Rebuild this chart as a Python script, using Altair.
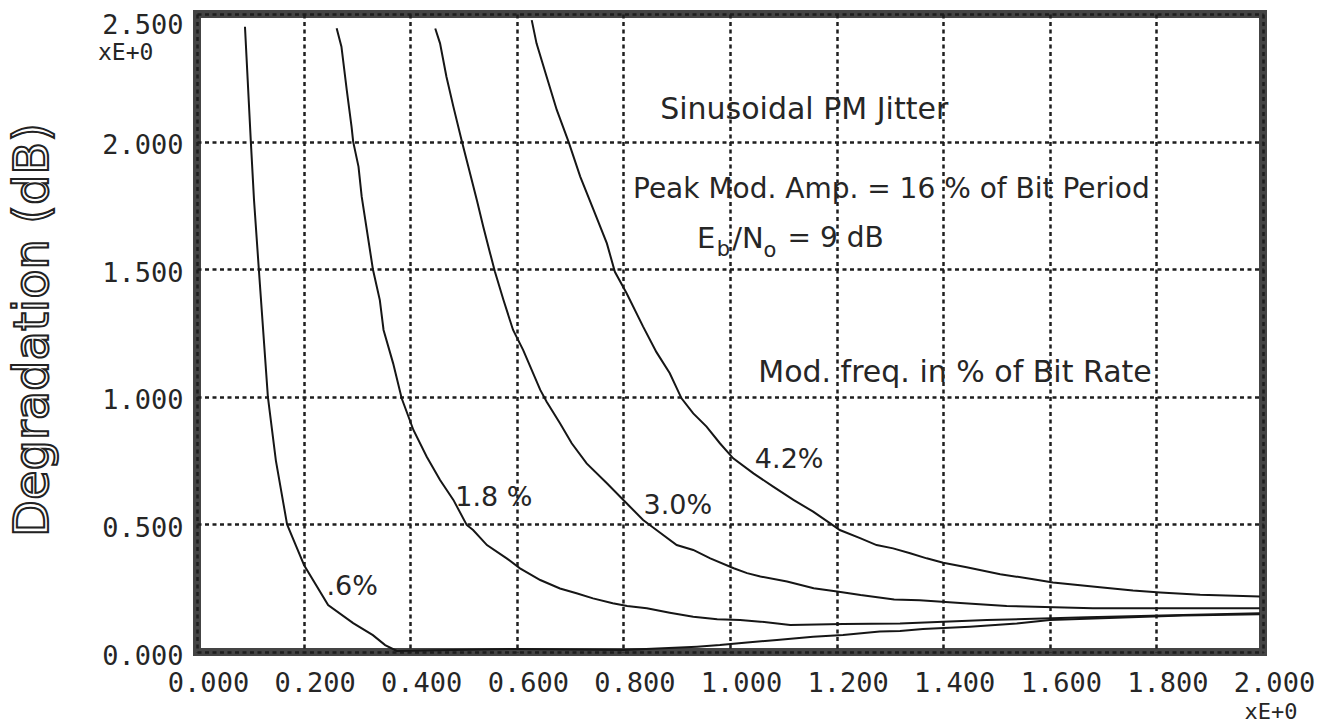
import altair as alt
import pandas as pd

# ---- axis ticks ----
x_ticks = [0.0, 0.2, 0.4, 0.6, 0.8, 1.0, 1.2, 1.4, 1.6, 1.8, 2.0]
y_ticks = [0.0, 0.5, 1.0, 1.5, 2.0, 2.5]

# ---- curves ----
c06_x = [0.090, 0.101, 0.107, 0.116, 0.133, 0.148, 0.169, 0.185, 0.201, 0.246, 0.293, 0.330,
         0.353, 0.375, 0.600, 0.800, 0.938, 0.981, 1.032, 1.088, 1.156, 1.212, 1.281, 1.319,
         1.362, 1.450, 1.538, 1.600, 1.850, 1.994]
c06_y = [2.450, 2.000, 1.770, 1.500, 1.000, 0.750, 0.500, 0.420, 0.340, 0.184, 0.113, 0.066,
         0.027, 0.004, 0.012, 0.008, 0.021, 0.027, 0.037, 0.047, 0.060, 0.067, 0.080, 0.082,
         0.090, 0.099, 0.112, 0.125, 0.143, 0.148]

c18_x = [0.262, 0.271, 0.281, 0.290, 0.293, 0.303, 0.309, 0.330, 0.343, 0.350, 0.368, 0.384,
         0.406, 0.431, 0.456, 0.481, 0.506, 0.518, 0.544, 0.581, 0.606, 0.644, 0.681, 0.712,
         0.743, 0.780, 0.807, 0.844, 0.887, 0.931, 0.976, 1.019, 1.057, 1.113, 1.212, 1.319,
         1.482, 1.670, 1.850, 1.994]
c18_y = [2.444, 2.372, 2.202, 2.058, 2.000, 1.902, 1.784, 1.500, 1.379, 1.262, 1.131, 0.994,
         0.870, 0.765, 0.674, 0.596, 0.498, 0.478, 0.419, 0.367, 0.328, 0.282, 0.249, 0.230,
         0.210, 0.191, 0.180, 0.171, 0.154, 0.138, 0.128, 0.125, 0.119, 0.106, 0.110, 0.112,
         0.125, 0.136, 0.145, 0.152]

c30_x = [0.447, 0.456, 0.468, 0.481, 0.497, 0.509, 0.525, 0.537, 0.550, 0.559, 0.575, 0.593,
         0.612, 0.644, 0.656, 0.681, 0.703, 0.731, 0.769, 0.806, 0.837, 0.862, 0.900, 0.931,
         0.963, 1.007, 1.032, 1.057, 1.107, 1.157, 1.201, 1.245, 1.308, 1.356, 1.432, 1.519,
         1.681, 1.994]
c30_y = [2.443, 2.385, 2.254, 2.137, 2.000, 1.902, 1.771, 1.667, 1.562, 1.490, 1.379, 1.262,
         1.183, 1.027, 0.981, 0.896, 0.818, 0.739, 0.661, 0.583, 0.517, 0.478, 0.419, 0.400,
         0.367, 0.328, 0.309, 0.296, 0.276, 0.250, 0.237, 0.223, 0.206, 0.203, 0.192, 0.180,
         0.171, 0.171]

c42_x = [0.628, 0.637, 0.656, 0.675, 0.697, 0.719, 0.744, 0.769, 0.784, 0.806, 0.837, 0.862,
         0.887, 0.909, 0.931, 0.956, 0.981, 1.006, 1.044, 1.081, 1.119, 1.156, 1.188, 1.206,
         1.244, 1.275, 1.306, 1.338, 1.369, 1.400, 1.444, 1.507, 1.569, 1.606, 1.694, 1.756,
         1.807, 1.882, 1.994]
c42_y = [2.476, 2.385, 2.254, 2.124, 2.000, 1.863, 1.732, 1.601, 1.490, 1.406, 1.275, 1.175,
         1.092, 0.994, 0.935, 0.883, 0.818, 0.759, 0.700, 0.648, 0.596, 0.550, 0.504, 0.478,
         0.446, 0.419, 0.406, 0.387, 0.367, 0.350, 0.332, 0.305, 0.285, 0.272, 0.254, 0.241,
         0.233, 0.224, 0.217]

# ---- curve labels ----
lab_text = [".6%", "1.8 %", "3.0%", "4.2%"]
lab_x = [0.291, 0.557, 0.902, 1.111]
lab_y = [0.255, 0.603, 0.572, 0.752]

rows = []
for name, xs, ys in [(".6%", c06_x, c06_y), ("1.8%", c18_x, c18_y),
                     ("3.0%", c30_x, c30_y), ("4.2%", c42_x, c42_y)]:
    for i, (a, b) in enumerate(zip(xs, ys)):
        rows.append({"curve": name, "order": i, "x": a, "y": b})
df = pd.DataFrame(rows)

INK = "#161616"
TXT = "#262626"

xscale = alt.Scale(domain=[0, 2], nice=False, zero=False)
yscale = alt.Scale(domain=[0, 2.5], nice=False, zero=False)

lines = alt.Chart(df).mark_line(color=INK, strokeWidth=2, clip=True).encode(
    x=alt.X("x:Q", scale=xscale,
            axis=alt.Axis(values=x_ticks, format=".3f", title=None,
                          labelPadding=18, labelOffset=11,
                          labelFlush=False, labelOverlap=False)),
    y=alt.Y("y:Q", scale=yscale,
            axis=alt.Axis(values=y_ticks, format=".3f", title=None,
                          labelPadding=14, labelFlush=False, labelOverlap=False,
                          labelOffset=alt.expr("datum.value == 2.5 ? 11 : 4"))),
    detail="curve:N",
    order="order:Q",
)

labels = alt.Chart(pd.DataFrame({"t": lab_text, "x": lab_x, "y": lab_y})).mark_text(
    font="DejaVu Sans", fontSize=27, color=TXT, align="center", baseline="middle"
).encode(x=alt.X("x:Q", scale=xscale), y=alt.Y("y:Q", scale=yscale), text="t:N")

# ---- annotations ----
ann_text = ["Sinusoidal PM Jitter", "Peak Mod. Amp.  = 16 % of Bit Period",
            "Mod. freq. in % of Bit Rate"]
ann_x = [0.869, 0.818, 1.053]
ann_y = [2.124, 1.810, 1.093]
ann_size = [30, 28, 30]
ann = alt.Chart(pd.DataFrame({"t": ann_text, "x": ann_x, "y": ann_y, "s": ann_size})).mark_text(
    font="DejaVu Sans", color=TXT, align="left", baseline="middle"
).encode(x=alt.X("x:Q", scale=xscale), y=alt.Y("y:Q", scale=yscale), text="t:N",
         size=alt.Size("s:Q", scale=None, legend=None))

eb_text = ["E", "b", "/N", "o", "= 9 dB"]
eb_x = [0.938, 0.975, 1.004, 1.063, 1.108]
eb_y = [1.618, 1.575, 1.618, 1.570, 1.618]
eb_size = [29, 21, 29, 21, 28]
eb = alt.Chart(pd.DataFrame({"t": eb_text, "x": eb_x, "y": eb_y, "s": eb_size})).mark_text(
    font="DejaVu Sans", color=TXT, align="left", baseline="middle"
).encode(x=alt.X("x:Q", scale=xscale), y=alt.Y("y:Q", scale=yscale), text="t:N",
         size=alt.Size("s:Q", scale=None, legend=None))

# ---- texts outside the plot ----
xe_top = alt.Chart(pd.DataFrame({"t": ["xE+0"]})).mark_text(
    font="DejaVu Sans Mono", fontSize=23, color=TXT, align="left", baseline="middle"
).encode(x=alt.value(-99), y=alt.value(39), text="t:N")

xe_bot = alt.Chart(pd.DataFrame({"t": ["xE+0"]})).mark_text(
    font="DejaVu Sans Mono", fontSize=22, color=TXT, align="center", baseline="middle"
).encode(x=alt.value(1074), y=alt.value(698), text="t:N")

ytitle = alt.Chart(pd.DataFrame({"t": ["Degradation (dB)"]})).mark_text(
    font="DejaVu Sans", fontSize=48, fill="#ffffff", stroke="#222222", strokeWidth=2,
    align="center", baseline="middle", angle=270
).encode(x=alt.value(-163), y=alt.value(316), text="t:N")

chart = alt.layer(lines, labels, ann, eb, xe_top, xe_bot, ytitle).properties(
    width=1066, height=638,
    autosize=alt.AutoSizeParams(type="none"),
    padding={"left": 197, "top": 14, "right": 64, "bottom": 72},
    background="white",
).configure_view(
    stroke="#444444", strokeWidth=8
).configure_axis(
    grid=True, gridDash=[4, 3.5], gridColor="#1e1e1e", gridWidth=2.5,
    domain=False, ticks=False,
    labelFont="DejaVu Sans Mono", labelFontSize=27, labelColor=TXT,
)

chart.save("out.html", embed_options={"renderer": "svg", "actions": False})
